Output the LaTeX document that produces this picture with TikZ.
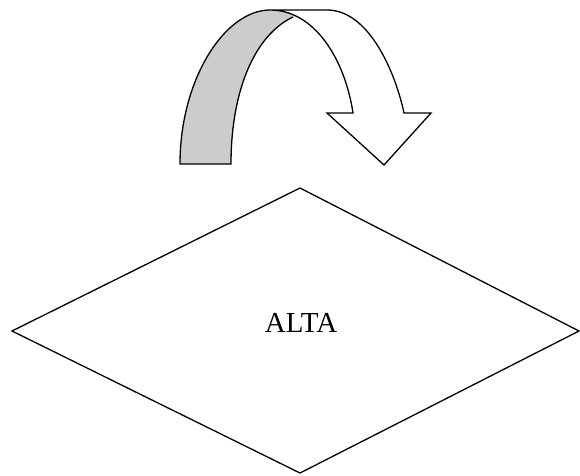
\documentclass[tikz,border=0pt]{standalone}
\usepackage{fontspec}
\setmainfont{Liberation Serif}
\begin{document}
\begin{tikzpicture}[x=1pt,y=-1pt,
  outline/.style={draw=black,line width=1.3pt,line join=miter},
  shade/.style={fill=black!20}]
\useasboundingbox (0,0) rectangle (580,475);
% curved arrow: shaded back part
\fill[shade] (180,164) .. controls (180,79) and (225,10) .. (270,10) -- (310,10) -- (293,17)
   .. controls (255,35) and (231,90) .. (231,164) -- cycle;
% white band with arrow head
\draw[outline,fill=white] (270,10) -- (327,10) .. controls (370,10) and (396,75) .. (404,113)
   -- (431,113) -- (384,165) -- (327,113) -- (353,113)
   .. controls (345,60) and (315,10) .. (270,10) -- cycle;
% outline of shaded part
\draw[outline] (293,17) .. controls (255,35) and (231,90) .. (231,164) -- (180,164)
   .. controls (180,79) and (225,10) .. (270,10);
% diamond
\coordinate (dt) at (300,188);
\coordinate (dr) at (579,331);
\coordinate (db) at (300,473);
\coordinate (dl) at (12,331);
\draw[outline] (dt) -- (dr) -- (db) -- (dl) -- cycle;
\node[anchor=base,inner sep=0pt,font=\fontsize{29}{34}\selectfont] (alta) at (301,332) {ALTA};
\end{tikzpicture}
\end{document}
